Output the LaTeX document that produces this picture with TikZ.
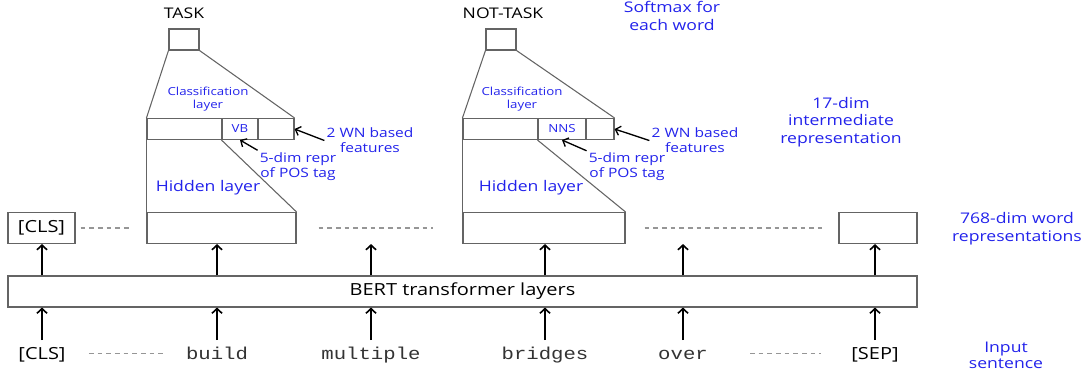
\documentclass[tikz,border=0pt]{standalone}
\usepackage{fontspec}
\usetikzlibrary{arrows.meta}
\setmainfont{Open Sans}[FakeStretch=1.2]
\setmonofont{Liberation Mono}[FakeStretch=1.2]
\definecolor{lblue}{RGB}{35,35,235}
\definecolor{boxgray}{RGB}{100,100,100}
\definecolor{dashgray}{RGB}{150,150,150}

\begin{document}
\begin{tikzpicture}
[
  x=0.75pt,
  y=-0.75pt,
  box/.style={draw=boxgray,line width=0.8pt,inner sep=0pt,minimum height=23.25pt},
  cell/.style={draw=boxgray,line width=0.8pt,inner sep=0pt,minimum height=15.75pt,text=lblue,font=\fontsize{8.3}{10}\selectfont},
  trap/.style={boxgray,line width=0.8pt},
  gapline/.style={draw=dashgray,line width=0.8pt,dash pattern=on 3.5pt off 3pt},
  arr/.style={-{Straight Barb[length=3.5pt,width=7.5pt]},line width=1.2pt},
  note/.style={-{Straight Barb[length=3.5pt,width=7pt]},line width=1pt},
  word/.style={anchor=base,inner sep=0pt,text height=14pt,text depth=6pt},
  blk/.style={font=\fontsize{12.5}{15}\selectfont},
  mono/.style={text=black!80,font=\ttfamily\fontsize{12.9}{15}\selectfont},
  toplbl/.style={inner sep=1pt,font=\fontsize{11}{13}\selectfont},
  lbl/.style={text=lblue,align=center,inner sep=1.5pt,font=\fontsize{11}{13.5}\selectfont},
  lblmid/.style={text=lblue,align=center,inner sep=1.5pt,font=\fontsize{9.7}{11.25}\selectfont},
  lblsmall/.style={text=lblue,align=center,inner sep=1pt,font=\fontsize{8.3}{9.75}\selectfont}
]
\useasboundingbox (0,0) rectangle (1086,374);

% Word representations
\node[box,blk,minimum width=50.25pt] (clsout) at (41.5,228) {[CLS]};
\node[box,minimum width=111.75pt] (hid1) at (221.5,228) {};
\node[box,minimum width=121.5pt] (hid2) at (544,228) {};
\node[box,minimum width=58.5pt] (sepout) at (878,228) {};
\node[box,blk,minimum width=681.75pt] (bert) at (462.5,291.5) {BERT transformer layers};

% Input sentence
\node[word,blk] (wcls) at (42,359) {[CLS]};
\node[word,mono] (wbuild) at (217,359) {build};
\node[word,mono] (wmult) at (371,359) {multiple};
\node[word,mono] (wbridge) at (545,359) {bridges};
\node[word,mono] (wover) at (683,359) {over};
\node[word,blk] (wsep) at (875,359) {[SEP]};

% Arrows through BERT
\foreach \w in {wcls,wbuild,wmult,wbridge,wover,wsep} {
  \draw[arr] (\w.north) -- (\w.north |- bert.south);
}
\draw[arr] (bert.north -| wcls) -- (clsout.south -| wcls);
\draw[arr] (bert.north -| wbuild) -- (hid1.south -| wbuild);
\draw[arr] (bert.north -| wmult) -- (hid1.south -| wmult);
\draw[arr] (bert.north -| wbridge) -- (hid2.south -| wbridge);
\draw[arr] (bert.north -| wover) -- (hid2.south -| wover);
\draw[arr] (bert.north -| wsep) -- (sepout.south -| wsep);

% Dashes
\draw[gapline,shorten <=3.75pt,shorten >=11.25pt] (clsout) -- (hid1);
\draw[gapline,shorten <=16.5pt,shorten >=21.75pt] (hid1) -- (hid2);
\draw[gapline,shorten <=14.25pt,shorten >=12pt] (hid2) -- (sepout);
\draw[gapline,shorten <=17.25pt,shorten >=14.25pt] (wcls) -- (wbuild);
\draw[gapline,shorten <=31.5pt,shorten >=22.5pt] (wover) -- (wsep);

% Classifier on "build"
\node[box,minimum width=22.5pt,minimum height=15.75pt] (out1) at (184,39.5) {};
\node[cell,minimum width=56.25pt] (f1a) at (184.5,129) {};
\node[cell,minimum width=27pt] (f1pos) at (240,129) {VB};
\node[cell,minimum width=27pt] (f1wn) at (276,129) {};
\draw[trap] (out1.south west) -- (f1a.north west);
\draw[trap] (out1.south east) -- (f1wn.north east);
\draw[trap] (f1a.south west) -- (hid1.north west);
\draw[trap] (f1pos.south west) -- (hid1.north east);
\node[toplbl] (task1) at (184,13) {TASK};
\node[lblsmall] (cls1) at (208,99.5) {Classification\\layer};
\node[lblmid] (wn1) at (370,140.5) {2 WN based\\features};
\node[lblmid] (pos1) at (298,166.5) {5-dim repr\\of POS tag};
\node[lbl] (hidlbl1) at (208,188) {Hidden layer};
\draw[note] (wn1.west) -- (f1wn.east);
\draw[note] (pos1.north west) -- (f1pos.south);

% Classifier on "bridges"
\node[box,minimum width=22.5pt,minimum height=15.75pt] (out2) at (501,39.5) {};
\node[cell,minimum width=56.25pt] (f2a) at (500.5,129) {};
\node[cell,minimum width=36pt] (f2pos) at (562,129) {NNS};
\node[cell,minimum width=21pt] (f2wn) at (600,129) {};
\draw[trap] (out2.south west) -- (f2a.north west);
\draw[trap] (out2.south east) -- (f2wn.north east);
\draw[trap] (f2a.south west) -- (hid2.north west);
\draw[trap] (f2pos.south west) -- (hid2.north east);
\node[toplbl] (task2) at (503,13) {NOT-TASK};
\node[lblsmall] (cls2) at (522,99.5) {Classification\\layer};
\node[lblmid] (wn2) at (695,140.5) {2 WN based\\features};
\node[lblmid] (pos2) at (627,167) {5-dim repr\\of POS tag};
\node[lbl] (hidlbl2) at (531,188) {Hidden layer};
\draw[note] (wn2.west) -- (f2wn.east);
\draw[note] (pos2.north west) -- (f2pos.south);

% Side notes
\node[lbl] (softmax) at (672,16) {Softmax for\\each word};
\node[lbl,font=\fontsize{11}{13}\selectfont] (dim17) at (841,122) {17-dim\\intermediate\\representation};
\node[lbl] (dim768) at (1017,228.5) {768-dim word\\representations};
\node[lbl,font=\fontsize{11}{12}\selectfont] (inlbl) at (1006,355) {Input\\sentence};

\end{tikzpicture}
\end{document}
